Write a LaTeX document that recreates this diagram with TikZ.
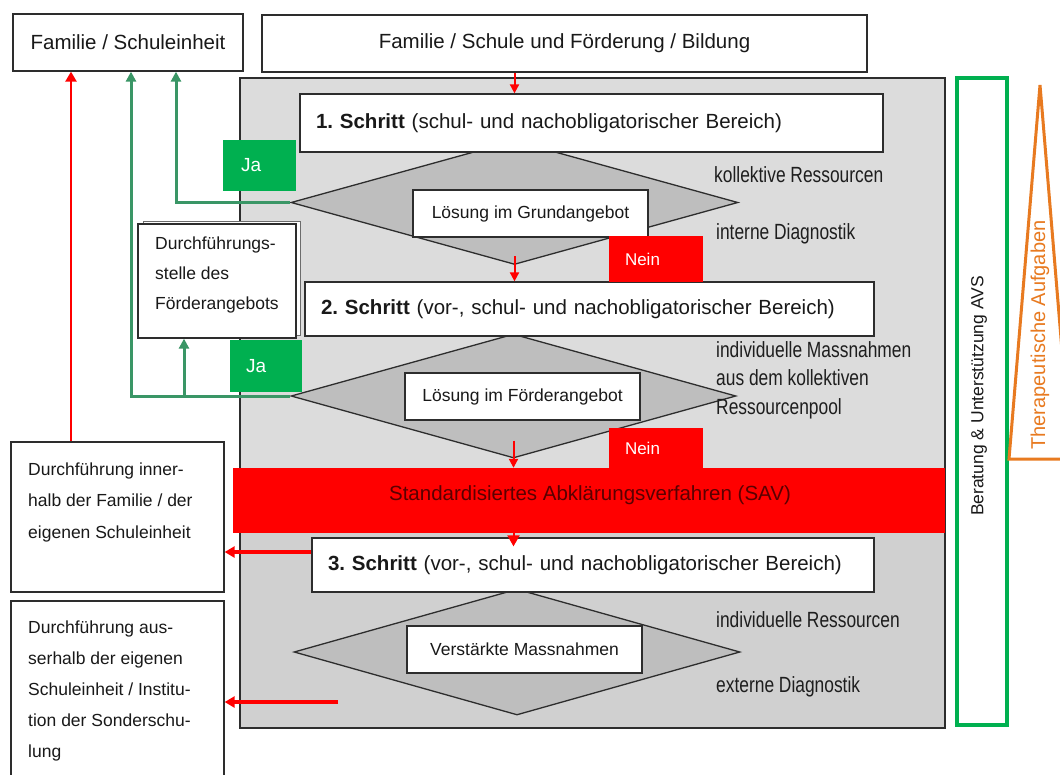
\documentclass[tikz,border=0pt]{standalone}
\usepackage{fontspec}
\setmainfont{Liberation Sans}
\newfontfamily\narrowfont[FakeStretch=0.79]{Liberation Sans}
\usetikzlibrary{shapes.geometric,arrows.meta}
\definecolor{bgup}{RGB}{220,220,220}
\definecolor{bglow}{RGB}{208,208,208}
\definecolor{diafill}{RGB}{190,190,190}
\definecolor{edge}{RGB}{45,45,45}
\definecolor{jagreen}{RGB}{0,176,80}
\definecolor{lgreen}{RGB}{58,150,102}
\definecolor{nred}{RGB}{255,0,0}
\definecolor{savtxt}{RGB}{90,0,0}
\definecolor{orng}{RGB}{232,122,32}
\definecolor{lbl}{RGB}{30,30,30}
\definecolor{txt}{RGB}{25,25,25}
\newcommand\myBig{\fontsize{20.5}{24}\selectfont}
\newcommand\mySmall{\fontsize{17.5}{21}\selectfont}
\newcommand\myNarrow{\narrowfont\fontsize{22}{28.5}\selectfont}
\frenchspacing
\begin{document}
\begin{tikzpicture}[x=1pt,y=-1pt,
  box/.style={draw=edge, line width=1.3pt, fill=white, inner sep=0pt, text=txt},
  diabox/.style={draw=edge, line width=1.3pt, fill=diafill, shape=diamond, inner sep=0pt},
  tag/.style={inner sep=0pt, align=left, text=white},
  lab/.style={anchor=west, inner sep=0pt, text=lbl, align=left, font=\myNarrow},
  boxtext/.style={anchor=north west, inner sep=0pt, align=left, text=txt},
  rarrow/.style={draw=nred, line width=3pt, -{Triangle[length=10pt,width=11pt]}},
  garrow/.style={draw=lgreen, line width=3pt, -{Triangle[length=10pt,width=10pt]}},
]
\useasboundingbox (0,0) rectangle (1060,774);
\fill[white] (0,0) rectangle (1060,774);

% gray region
\node[draw=edge, line width=1.3pt, fill=bgup, inner sep=0pt, minimum width=705pt, minimum height=650pt] (gbox) at (592.5,403) {};
\fill[bglow] (241,533) rectangle (944,727);

% diamonds
\node[diabox, minimum width=447pt, minimum height=124pt] (d1) at (514.5,202.5) {};
\node[diabox, minimum width=445pt, minimum height=124pt] (d2) at (513.5,396) {};
\node[diabox, minimum width=446pt, minimum height=126pt] (d3) at (517,652) {};

% top boxes
\node[box, minimum width=230pt, minimum height=57pt, font=\myBig] (fam) at (128,42.5) {Familie / Schuleinheit};
\node[box, minimum width=605pt, minimum height=57pt, font=\myBig] (top) at (564.5,43.5) {Familie / Schule und Förderung / Bildung};

% steps
\node[box, minimum width=583pt, minimum height=58pt, text width=551pt, align=left, font=\myBig] (s1) at (591.5,123) {\textbf{1. Schritt} (schul- und nachobligatorischer Bereich)};
\node[box, minimum width=569pt, minimum height=54pt, text width=537pt, align=left, font=\myBig] (s2) at (589.5,309) {\textbf{2. Schritt} (vor-, schul- und nachobligatorischer Bereich)};
\node[box, minimum width=562pt, minimum height=54pt, text width=530pt, align=left, font=\myBig] (s3) at (593,565) {\textbf{3. Schritt} (vor-, schul- und nachobligatorischer Bereich)};

% solution boxes
\node[box, minimum width=235pt, minimum height=47pt, font=\mySmall] (lg) at (530.5,213.5) {Lösung im Grundangebot};
\node[box, minimum width=235pt, minimum height=47pt, font=\mySmall] (lf) at (522.5,396.5) {Lösung im Förderangebot};
\node[box, minimum width=235pt, minimum height=47pt, font=\mySmall] (lv) at (524.5,649.5) {Verstärkte Massnahmen};

% SAV
\node[fill=nred, inner sep=0pt, minimum width=712pt, minimum height=65pt] (sav) at (589,500.5) {};
\node[anchor=base, inner sep=0pt, text=savtxt, font=\myBig] (savt) at (590,500) {Standardisiertes Abklärungsverfahren (SAV)};

% Ja / Nein
\node[tag, fill=jagreen, minimum width=73pt, minimum height=51pt, text width=37pt, font=\fontsize{19}{22}\selectfont] (ja1) at (259.5,165.5) {Ja};
\node[tag, fill=jagreen, minimum width=72pt, minimum height=52pt, text width=40pt, font=\fontsize{19}{22}\selectfont] (ja2) at (266,366) {Ja};
\node[tag, fill=nred, minimum width=94pt, minimum height=46pt, text width=62pt, font=\fontsize{17}{20}\selectfont] (nein1) at (656,259) {Nein};
\node[tag, fill=nred, minimum width=94pt, minimum height=40pt, text width=62pt, font=\fontsize{17}{20}\selectfont] (nein2) at (656,448) {Nein};

% side labels
\node[lab] (l1) at (714,175) {kollektive Ressourcen};
\node[lab] (l2) at (716,234) {interne Diagnostik};
\node[lab] (l3) at (716,380) {individuelle Massnahmen\\aus dem kollektiven\\Ressourcenpool};
\node[lab] (l4) at (716,620) {individuelle Ressourcen};
\node[lab] (l5) at (716,687) {externe Diagnostik};

% Durchfuehrungsstelle
\draw[edge!70, line width=1pt, fill=white] (143,221) rectangle (300,335);
\node[box, minimum width=158pt, minimum height=114pt] (ds) at (217,281) {};
\node[boxtext, font=\fontsize{17.5}{30}\selectfont] (dst) at (155,236.5) {Durchführungs-\\stelle des\\Förderangebots};

% left boxes
\node[box, minimum width=213pt, minimum height=150pt] (lb1) at (117.5,517) {};
\node[boxtext, font=\fontsize{17.5}{31.5}\selectfont] (lb1t) at (28,462.5) {Durchführung inner-\\halb der Familie / der\\eigenen Schuleinheit};
\node[box, minimum width=213pt, minimum height=189pt] (lb2) at (117.5,695.5) {};
\node[boxtext, font=\fontsize{17.5}{31}\selectfont] (lb2t) at (28,620.5) {Durchführung aus-\\serhalb der eigenen\\Schuleinheit / Institu-\\tion der Sonderschu-\\lung};

% right side
\node[draw=jagreen, line width=4pt, inner sep=0pt, minimum width=50pt, minimum height=647pt] (avs) at (982,401.5) {};
\node[rotate=90, font=\mySmall, text=txt, inner sep=0pt] (avst) at (979,396) {Beratung \& Unterstützung AVS};
\draw[orng, line width=3pt, line join=miter] (1040,85) -- (1009,459) -- (1071,459) -- cycle;
\node[rotate=90, text=orng, font=\fontsize{20}{24}\selectfont, inner sep=0pt] (ther) at (1040,335) {Therapeutische Aufgaben};

% red connectors
\draw[rarrow, line width=2pt, -{Triangle[length=9pt,width=9pt]}] (d1.north |- top.south) -- (d1.north |- s1.north);
\draw[rarrow, line width=2pt, -{Triangle[length=9pt,width=9pt]}] ([yshift=9pt]d1.south) -- (d1.south |- s2.north);
\draw[rarrow, line width=2pt, -{Triangle[length=9pt,width=9pt]}] ([yshift=18pt]d2.south) -- (d2.south |- sav.north);
\draw[rarrow, line width=2pt, -{Triangle[length=11pt,width=12pt]}] (d2.south |- sav.south) -- ([yshift=-9pt]d2.south |- s3.north);
\draw[rarrow, line width=2.5pt] ([xshift=-46.5pt]lb1.north) -- ([xshift=-57pt]fam.south);
\draw[rarrow, line width=4pt] ([yshift=13pt]s3.west) -- ([yshift=13pt]s3.west -| lb1.east);
\coordinate (a2) at (338,702);
\draw[rarrow, line width=4pt] (a2) -- (a2 -| lb2.east);

% green connectors
\draw[garrow] (d1.west) -| ([xshift=48pt]fam.south);
\draw[garrow] (d2.west) -| ([xshift=3pt]fam.south);
\coordinate (br) at (184,396);
\draw[garrow] (br) -- (br |- ds.south);
\end{tikzpicture}
\end{document}
